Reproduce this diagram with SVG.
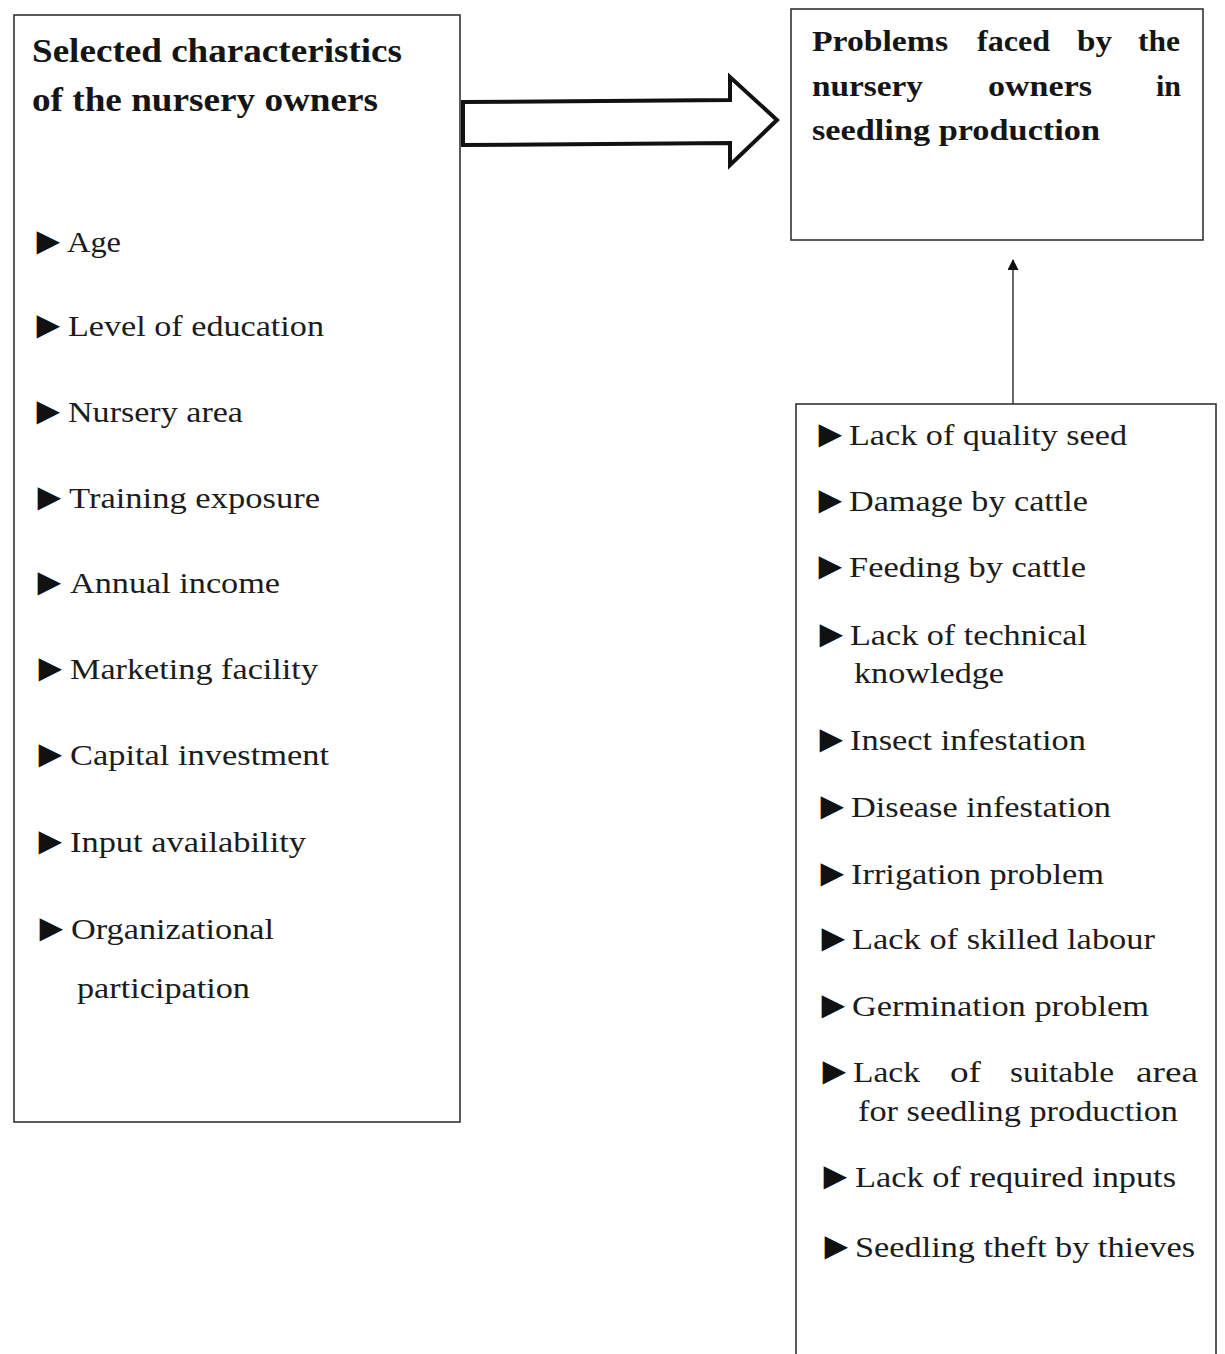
<svg xmlns="http://www.w3.org/2000/svg" width="1225" height="1354" viewBox="0 0 1225 1354">
<style>
.box{fill:#fff;stroke:#333;stroke-width:1.6}
.t{font-family:"Liberation Serif","Times New Roman",serif;font-size:30px;fill:#1c1c1c}
.b{font-family:"Liberation Serif","Times New Roman",serif;font-weight:bold;fill:#151515}
.bul{font-family:"Liberation Serif","DejaVu Sans",serif;font-size:39px;fill:#111}
</style>
<defs>
<marker id="ah" viewBox="0 0 10 10" refX="9" refY="5" markerUnits="userSpaceOnUse" markerWidth="12" markerHeight="11" orient="auto"><path d="M0,0L10,5L0,10z" fill="#111"/></marker>
</defs>
<rect width="1225" height="1354" fill="#fff"/>
<g id="connectors">
<path id="big-arrow" d="M463,102 L730,100 L730,77 L777,120 L730,165 L730,143 L463,145 Z" fill="#fff" stroke="#111" stroke-width="4" stroke-linejoin="miter"/>
<line x1="1013" y1="404" x2="1013" y2="260" stroke="#444" stroke-width="1.6" marker-end="url(#ah)"/>
</g>
<g id="node-characteristics">
<rect class="box" x="14" y="15" width="446" height="1107"/>
<text class="b" font-size="33" x="32" y="62" textLength="370" lengthAdjust="spacingAndGlyphs">Selected characteristics</text>
<text class="b" font-size="33" x="32" y="111" textLength="346" lengthAdjust="spacingAndGlyphs">of the nursery owners</text>
<g class="bul">
<text x="29" y="254">►</text>
<text x="29" y="338">►</text>
<text x="29" y="424">►</text>
<text x="30" y="510">►</text>
<text x="30" y="595">►</text>
<text x="31" y="681">►</text>
<text x="31" y="767">►</text>
<text x="31" y="854">►</text>
<text x="32" y="941">►</text>
</g>
<g class="t">
<text x="67" y="252" textLength="54" lengthAdjust="spacingAndGlyphs">Age</text>
<text x="68" y="336" textLength="256" lengthAdjust="spacingAndGlyphs">Level of education</text>
<text x="68" y="422" textLength="175" lengthAdjust="spacingAndGlyphs">Nursery area</text>
<text x="69" y="508" textLength="251" lengthAdjust="spacingAndGlyphs">Training exposure</text>
<text x="70" y="593" textLength="210" lengthAdjust="spacingAndGlyphs">Annual income</text>
<text x="70" y="679" textLength="248" lengthAdjust="spacingAndGlyphs">Marketing facility</text>
<text x="70" y="765" textLength="259" lengthAdjust="spacingAndGlyphs">Capital investment</text>
<text x="70" y="852" textLength="236" lengthAdjust="spacingAndGlyphs">Input availability</text>
<text x="71" y="939" textLength="203" lengthAdjust="spacingAndGlyphs">Organizational</text>
<text x="77" y="998" textLength="173" lengthAdjust="spacingAndGlyphs">participation</text>
</g>
</g>
<g id="node-problems-title">
<rect class="box" x="791" y="9" width="412" height="231"/>
<g class="b" font-size="30">
<text x="812" y="51" textLength="136" lengthAdjust="spacingAndGlyphs">Problems</text>
<text x="977" y="51" textLength="73" lengthAdjust="spacingAndGlyphs">faced</text>
<text x="1077" y="51" textLength="35" lengthAdjust="spacingAndGlyphs">by</text>
<text x="1138" y="51" textLength="42" lengthAdjust="spacingAndGlyphs">the</text>
<text x="812" y="96" textLength="111" lengthAdjust="spacingAndGlyphs">nursery</text>
<text x="988" y="96" textLength="104" lengthAdjust="spacingAndGlyphs">owners</text>
<text x="1181" y="96" text-anchor="end">in</text>
<text x="812" y="140" textLength="288" lengthAdjust="spacingAndGlyphs">seedling production</text>
</g>
</g>
<g id="node-problems-list">
<rect class="box" x="796" y="404" width="420" height="960"/>
<g class="bul">
<text x="811" y="447">►</text>
<text x="811" y="513">►</text>
<text x="811" y="579">►</text>
<text x="812" y="647">►</text>
<text x="812" y="752">►</text>
<text x="813" y="819">►</text>
<text x="813" y="886">►</text>
<text x="814" y="951">►</text>
<text x="814" y="1018">►</text>
<text x="815" y="1084">►</text>
<text x="816" y="1189">►</text>
<text x="817" y="1259">►</text>
</g>
<g class="t">
<text x="849" y="445" textLength="278" lengthAdjust="spacingAndGlyphs">Lack of quality seed</text>
<text x="849" y="511" textLength="239" lengthAdjust="spacingAndGlyphs">Damage by cattle</text>
<text x="849" y="577" textLength="237" lengthAdjust="spacingAndGlyphs">Feeding by cattle</text>
<text x="850" y="645" textLength="237" lengthAdjust="spacingAndGlyphs">Lack of technical</text>
<text x="854" y="683" textLength="150" lengthAdjust="spacingAndGlyphs">knowledge</text>
<text x="850" y="750" textLength="236" lengthAdjust="spacingAndGlyphs">Insect infestation</text>
<text x="851" y="817" textLength="260" lengthAdjust="spacingAndGlyphs">Disease infestation</text>
<text x="851" y="884" textLength="253" lengthAdjust="spacingAndGlyphs">Irrigation problem</text>
<text x="852" y="949" textLength="303" lengthAdjust="spacingAndGlyphs">Lack of skilled labour</text>
<text x="852" y="1016" textLength="297" lengthAdjust="spacingAndGlyphs">Germination problem</text>
<text x="853" y="1082" textLength="67" lengthAdjust="spacingAndGlyphs">Lack</text>
<text x="950" y="1082" textLength="31" lengthAdjust="spacingAndGlyphs">of</text>
<text x="1010" y="1082" textLength="104" lengthAdjust="spacingAndGlyphs">suitable</text>
<text x="1136" y="1082" textLength="62" lengthAdjust="spacingAndGlyphs">area</text>
<text x="858" y="1121" textLength="320" lengthAdjust="spacingAndGlyphs">for seedling production</text>
<text x="855" y="1187" textLength="321" lengthAdjust="spacingAndGlyphs">Lack of required inputs</text>
<text x="855" y="1257" textLength="340" lengthAdjust="spacingAndGlyphs">Seedling theft by thieves</text>
</g>
</g>
</svg>
